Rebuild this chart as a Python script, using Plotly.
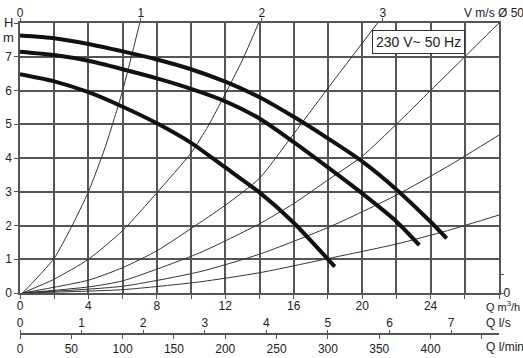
import plotly.graph_objects as go

# ---------------- data ----------------
# pump curves: Q [m3/h], H [m]
q_top = [0, 2, 4, 6, 8, 10, 12, 14, 16, 18, 20, 22, 24, 24.94]
h_top = [7.63, 7.55, 7.38, 7.16, 6.92, 6.63, 6.26, 5.80, 5.22, 4.58, 3.90, 3.07, 2.11, 1.62]

q_mid = [0, 2, 4, 6, 8, 10, 12, 14, 16, 18, 20, 22, 23.34]
h_mid = [7.15, 7.05, 6.88, 6.63, 6.36, 6.05, 5.68, 5.17, 4.47, 3.72, 2.95, 2.12, 1.42]

q_low = [0, 2, 4, 6, 8, 10, 12, 14, 16, 18.4]
h_low = [6.48, 6.27, 5.95, 5.52, 5.03, 4.45, 3.72, 2.98, 2.08, 0.78]

# system (resistance) curves
q_s1 = [0.15, 1, 2, 3, 4, 5, 6, 7.0]
h_s1 = [0, 0.45, 1.03, 1.95, 3.0, 4.35, 6.0, 8.0]

q_s2 = [0.15, 2, 4, 6, 8, 10, 11, 12, 13, 13.95]
h_s2 = [0, 0.41, 1.0, 1.85, 2.97, 4.15, 4.95, 5.9, 6.9, 8.0]

q_s3 = [0.15, 4, 6, 8, 10.5, 12, 14, 15.8, 17.9, 19.4, 20.9]
h_s3 = [0, 0.38, 0.75, 1.25, 2.08, 2.6, 3.4, 4.58, 6.0, 7.0, 8.0]

q_s4 = [0.15, 4, 6, 10.5, 14, 16, 18, 20, 22, 24, 26, 28]
h_s4 = [0, 0.18, 0.36, 1.19, 2.05, 2.65, 3.35, 4.05, 5.0, 6.0, 7.0, 8.0]

q_s5 = [0.15, 6, 10.5, 14, 18.1, 22, 25, 28]
h_s5 = [0, 0.2, 0.63, 1.15, 1.96, 2.9, 3.75, 4.68]

q_s6 = [0.15, 6, 10.5, 14, 18.1, 22, 25, 28]
h_s6 = [0, 0.1, 0.33, 0.6, 1.03, 1.45, 1.85, 2.31]

# axes
q_m3h_max = 28
h_max = 8
x_ticks = list(range(0, 29, 2))
x_ticklabels = [str(v) if (v % 4 == 0 and v <= 24) else "" for v in x_ticks]
y_ticks = list(range(0, 9))
y_ticklabels = [str(v) for v in range(0, 8)] + [""]
v_ticks = [0, 1, 2, 3]                      # m/s, DN50
ls_ticks = [0, 1, 2, 3, 4, 5, 6, 7]         # l/s
lmin_ticks = list(range(0, 451, 50))        # l/min
lmin_labels = [str(v) if v <= 400 else "" for v in lmin_ticks]
right_ticks = [0, 0.56]
right_labels = ["0", ""]

# unit conversions (axis ranges)
pipe_area = 3.14159265 * 0.025 ** 2         # m2, Ø50
v_max = q_m3h_max / 3600 / pipe_area        # m/s
ls_max = q_m3h_max / 3.6                    # l/s
lmin_max = q_m3h_max * 1000 / 60            # l/min

# ---------------- figure ----------------
W, H = 523, 358
ML, MR, MT, MB = 20, 24, 23, 5
PL, PR, PT, PB = ML, W - MR, MT, H - MB


def px(xp):
    return (xp - PL) / (PR - PL)


def py(yp):
    return (PB - yp) / (PB - PT)


FONT = "Liberation Sans, Arial, sans-serif"
GRID = "#555555"
TXT = "#222222"

fig = go.Figure()

thin = dict(color="#333333", width=1)
for qs, hs in [(q_s1, h_s1), (q_s2, h_s2), (q_s3, h_s3),
               (q_s4, h_s4), (q_s5, h_s5), (q_s6, h_s6)]:
    fig.add_trace(go.Scatter(x=qs, y=hs, mode="lines", line=dict(shape="spline", smoothing=0.6, **thin),
                             hoverinfo="skip", showlegend=False))

thick = dict(color="#111111", width=4)
for qs, hs in [(q_top, h_top), (q_mid, h_mid), (q_low, h_low)]:
    fig.add_trace(go.Scatter(x=qs, y=hs, mode="lines", line=dict(shape="spline", smoothing=0.6, **thick),
                             hoverinfo="skip", showlegend=False))

# invisible anchors so the secondary axes are drawn
for xa, ya in [("x2", "y"), ("x", "y2"), ("x3", "y"), ("x4", "y")]:
    fig.add_trace(go.Scatter(x=[0], y=[0], xaxis=xa, yaxis=ya, mode="markers",
                             marker=dict(opacity=0), hoverinfo="skip", showlegend=False))

axis_font = dict(family=FONT, size=12, color=TXT)
line_pos = py(334)
common = dict(automargin=False, zeroline=False, ticks="outside", ticklen=4,
              tickcolor=GRID, tickwidth=1.2, tickfont=axis_font)

fig.update_layout(
    width=W, height=H,
    margin=dict(l=ML, r=MR, t=MT, b=MB, autoexpand=False),
    paper_bgcolor="white", plot_bgcolor="white",
    font=axis_font,
    xaxis=dict(range=[0, q_m3h_max], tickvals=x_ticks, ticktext=x_ticklabels,
               showgrid=True, gridcolor=GRID, gridwidth=1.5,
               showline=True, linecolor=GRID, linewidth=1.5, mirror=True,
               ticklabelstandoff=-3,
               domain=[0, 1], anchor="y", **common),
    yaxis=dict(range=[0, h_max], tickvals=y_ticks, ticktext=y_ticklabels,
               showgrid=True, gridcolor=GRID, gridwidth=1.5,
               showline=True, linecolor=GRID, linewidth=1.5, mirror=True,
               domain=[py(293), 1], anchor="x", **common),
    xaxis2=dict(range=[0, v_max], overlaying="x", side="top", anchor="y",
                tickvals=v_ticks, ticktext=[str(v) for v in v_ticks],
                ticklabelstandoff=-4,
                showgrid=False, showline=False, **common),
    yaxis2=dict(range=[0, h_max], overlaying="y", side="right", anchor="x",
                tickvals=right_ticks, ticktext=right_labels,
                ticklabelstandoff=-3,
                showgrid=False, showline=False, **common),
    xaxis3=dict(range=[0, ls_max], overlaying="x", side="top", anchor="free", position=line_pos,
                tickvals=ls_ticks, ticktext=[str(v) for v in ls_ticks],
                ticklabelstandoff=-2,
                showgrid=False, showline=False, **common),
    xaxis4=dict(range=[0, lmin_max], overlaying="x", side="bottom", anchor="free", position=line_pos,
                tickvals=lmin_ticks, ticktext=lmin_labels,
                showgrid=False, showline=True, linecolor=GRID, linewidth=1.5, **common),
)

ann = [
    dict(text="H", x=px(8), y=py(22), font=dict(family=FONT, size=13, color=TXT)),
    dict(text="m", x=px(8), y=py(38), font=dict(family=FONT, size=13, color=TXT)),
    dict(text="V m/s Ø 50", x=px(462), y=py(13), xanchor="left",
         font=dict(family=FONT, size=12, color=TXT)),
    dict(text="Q m<sup>3</sup>/h", x=px(484), y=py(306), xanchor="left",
         font=dict(family=FONT, size=11, color=TXT)),
    dict(text="Q l/s", x=px(484), y=py(323), xanchor="left",
         font=dict(family=FONT, size=12, color=TXT)),
    dict(text="Q l/min", x=px(484), y=py(347), xanchor="left",
         font=dict(family=FONT, size=12, color=TXT)),
    dict(text="230 V~ 50 Hz", x=px(418), y=py(42), bgcolor="white",
         bordercolor="#333333", borderwidth=1, borderpad=3,
         font=dict(family=FONT, size=14, color=TXT)),
]
for a in ann:
    a.setdefault("xanchor", "center")
    a.update(xref="paper", yref="paper", yanchor="middle", showarrow=False)
fig.update_layout(annotations=ann)

fig.write_html("out.html", config={"displayModeBar": False},
               post_script="document.body.style.margin='0';document.body.style.overflow='hidden';")
